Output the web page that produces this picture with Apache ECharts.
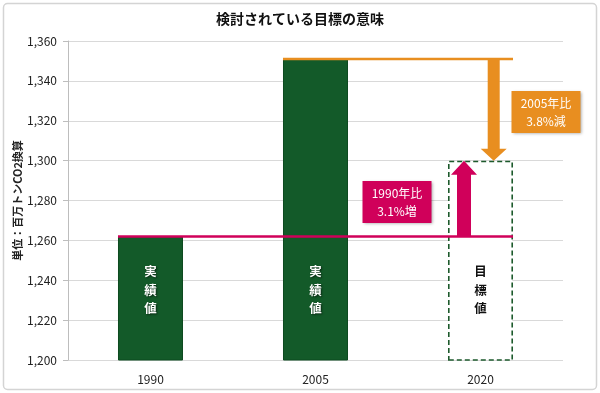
<!DOCTYPE html>
<html><head><meta charset="utf-8">
<script src="https://cdn.jsdelivr.net/npm/echarts@6/dist/echarts.min.js"></script>
<style>html,body{margin:0;padding:0;background:#fff}#c{width:600px;height:393px}</style>
</head><body><div id="c"></div>
<script>
const categories = ['1990', '2005', '2020'];
const values = [1262, 1351, 1300];
const barLabels = ['実\n績\n値', '実\n績\n値', '目\n標\n値'];
const yTicks = [1200, 1220, 1240, 1260, 1280, 1300, 1320, 1340, 1360];
const baseValue = 1262;      // 1990 level
const peakValue = 1351;      // 2005 level
const targetValue = 1300;    // 2020 target
// arrows: [x position (category units), from value, to value]
const arrowOrange = [2.08, 1351, 1300];
const arrowMagenta = [1.9, 1262, 1300];
// annotation boxes: [x, y] in data units + text
const noteX = [2.397, 1.494];
const noteY = [1324.4, 1279.2];
const noteText = ['2005年比\n3.8%減', '1990年比\n3.1%増'];

const FONT = '"Noto Sans CJK JP", "Noto Sans", sans-serif';
const GREEN = '#135a29', ORANGE = '#e88e20', MAGENTA = '#d0005a';
const barHalf = 0.197;

const chart = echarts.init(document.getElementById('c'));
chart.setOption({
  animation: false,
  textStyle: { fontFamily: FONT },
  title: {
    text: '検討されている目標の意味', left: 'center', top: 7,
    textStyle: { fontSize: 14, fontWeight: 'bold', color: '#111', fontFamily: FONT }
  },
  graphic: [{
    type: 'rect', shape: { x: 3.5, y: 3.5, width: 593, height: 386, r: 4 },
    style: { fill: 'none', stroke: '#d4d4d4', lineWidth: 1.5 }, z: -10
  }],
  grid: { left: 68, right: 37, top: 41, bottom: 33, outerBoundsMode: 'none' },
  xAxis: [{
    type: 'category', data: categories,
    axisLine: { show: false }, axisTick: { show: false },
    axisLabel: { fontSize: 12, color: '#222', margin: 13, fontFamily: FONT }
  }, {
    type: 'value', min: -0.5, max: 2.5, show: false
  }],
  yAxis: {
    type: 'value', min: yTicks[0], max: yTicks[yTicks.length - 1], interval: 20,
    name: '単位：百万トンCO2換算', nameLocation: 'middle', nameRotate: 90, nameGap: 45,
    nameMoveOverlap: false,
    nameTextStyle: { fontSize: 11, fontWeight: 'bold', color: '#222', fontFamily: FONT },
    axisLine: { show: true, onZero: false, lineStyle: { color: '#bdbdbd' } },
    axisTick: { show: true, length: 5, lineStyle: { color: '#bdbdbd' } },
    axisLabel: { fontSize: 12, color: '#222', margin: 11,
      formatter: v => v.toLocaleString('en-US') },
    splitLine: { lineStyle: { color: '#d9d9d9', width: 1 } }
  },
  series: [{
    type: 'bar', barWidth: '39.4%', z: 2,
    data: values.map((v, i) => i < 2 ? {
      value: v, itemStyle: { color: GREEN, borderColor: '#0d4a20', borderWidth: 1 }
    } : {
      value: v, itemStyle: { color: '#fff', borderColor: '#1d5a2c', borderWidth: 1.6, borderType: [5, 3] },
      label: { color: '#111', textShadowBlur: 0, textShadowOffsetX: 0, textShadowOffsetY: 0 }
    }),
    label: {
      show: true, position: 'insideBottom', distance: 43,
      formatter: p => barLabels[p.dataIndex],
      color: '#fff', fontSize: 12.5, fontWeight: 'bold', lineHeight: 18.5, fontFamily: FONT,
      textShadowColor: 'rgba(0,0,0,0.6)', textShadowBlur: 2, textShadowOffsetX: 1, textShadowOffsetY: 1
    }
  }, {
    type: 'line', xAxisIndex: 1, z: 5, symbol: 'none',
    lineStyle: { color: MAGENTA, width: 2.5 },
    data: [[0 - barHalf, baseValue], [2 + barHalf, baseValue]]
  }, {
    type: 'line', xAxisIndex: 1, z: 5, symbol: 'none',
    lineStyle: { color: ORANGE, width: 2.5 },
    data: [[1 - barHalf, peakValue], [2 + barHalf, peakValue]]
  }, {
    type: 'custom', xAxisIndex: 1, z: 6,
    data: [arrowOrange, arrowMagenta],
    renderItem: (params, api) => {
      const x = api.value(0);
      const p0 = api.coord([x, api.value(1)]);
      const p1 = api.coord([x, api.value(2)]);
      const down = p1[1] > p0[1];
      const dir = down ? 1 : -1;
      const s = down ? 6 : 7, h = 13, L = down ? 12 : 14;
      const cx = p0[0], yb = p1[1] - dir * L;
      return {
        type: 'polygon',
        shape: { points: [[cx - s, p0[1]], [cx - s, yb], [cx - h, yb], [cx, p1[1]], [cx + h, yb], [cx + s, yb], [cx + s, p0[1]]] },
        style: { fill: down ? ORANGE : MAGENTA }
      };
    }
  }, {
    type: 'custom', xAxisIndex: 1, z: 7, clip: false,
    data: noteX.map((x, i) => [x, noteY[i]]),
    renderItem: (params, api) => {
      const c = api.coord([api.value(0), api.value(1)]);
      const w = 69, hh = 42;
      const col = params.dataIndex === 0 ? ORANGE : MAGENTA;
      return {
        type: 'group',
        children: [{
          type: 'rect', shape: { x: c[0] - w / 2, y: c[1] - hh / 2, width: w, height: hh },
          style: { fill: col, shadowBlur: 3, shadowColor: 'rgba(0,0,0,0.35)', shadowOffsetX: 1, shadowOffsetY: 1 }
        }, {
          type: 'text', x: c[0], y: c[1],
          style: { text: noteText[params.dataIndex], fill: '#fff', fontSize: 12, lineHeight: 18,
            align: 'center', verticalAlign: 'middle', fontFamily: FONT }
        }]
      };
    }
  }]
});
</script></body></html>
